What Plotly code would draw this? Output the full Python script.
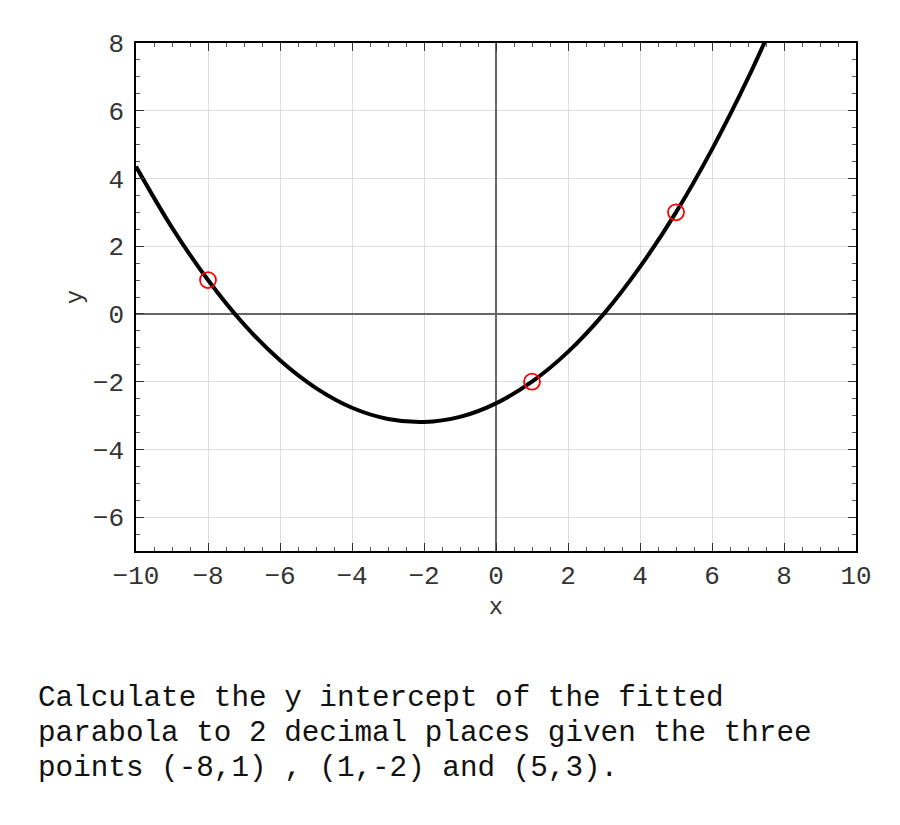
import plotly.graph_objects as go

# Given points
pt_x = [-8, 1, 5]
pt_y = [1, -2, 3]

# Fitted parabola, values
curve_x = [-10, -9, -8, -7, -6, -5, -4, -3, -2, -1, 0, 1, 2, 3, 4, 5, 6, 7, 8]
curve_y = [4.35, 2.55, 1.00, -0.31, -1.37, -2.19, -2.77, -3.10, -3.19, -3.04,
           -2.64, -2.00, -1.12, 0.01, 1.39, 3.00, 4.86, 6.96, 9.31]

question = ["Calculate the y intercept of the fitted",
            "parabola to 2 decimal places given the three",
            "points (-8,1) , (1,-2) and (5,3)."]

FONT = "Liberation Mono, Courier New, monospace"

fig = go.Figure()
fig.add_trace(go.Scatter(x=curve_x, y=curve_y, mode="lines",
                         line=dict(color="black", width=4, shape="spline"),
                         showlegend=False, hoverinfo="skip"))
fig.add_trace(go.Scatter(x=pt_x, y=pt_y, mode="markers",
                         marker=dict(symbol="circle-open", size=16,
                                     color="red", line=dict(width=1.8, color="red")),
                         showlegend=False))

axis_common = dict(
    showline=True, linecolor="black", linewidth=1.5, mirror="ticks",
    ticks="inside", ticklen=8, tickwidth=1.3, tickcolor="#333",
    showgrid=True, gridcolor="#dddddd", gridwidth=1,
    zeroline=True, zerolinecolor="#666666", zerolinewidth=1.5,
    tickfont=dict(family=FONT, size=26, color="#333"),
    minor=dict(ticks="inside", ticklen=4, tickcolor="#555", tickwidth=1, dtick=0.5, showgrid=False),
)

fig.update_xaxes(range=[-10, 10], dtick=2, tick0=0,
                 title=dict(text="x", font=dict(family=FONT, size=24, color="#333"), standoff=6),
                 **axis_common)
fig.update_yaxes(range=[-7, 8], dtick=2, tick0=0, ticklabelstandoff=5,
                 title=dict(text="y", font=dict(family=FONT, size=24, color="#333"), standoff=3),
                 **axis_common)

for i, line in enumerate(question):
    fig.add_annotation(text=line, xref="paper", yref="paper",
                       x=-0.139, y=-0.291 - i * 0.0689, xanchor="left", yanchor="middle",
                       showarrow=False, font=dict(family=FONT, size=29.3, color="#111"))

fig.update_layout(width=900, height=825,
                  margin=dict(l=128, r=52, t=35, b=282),
                  plot_bgcolor="white", paper_bgcolor="white")

fig.write_html("out.html")
